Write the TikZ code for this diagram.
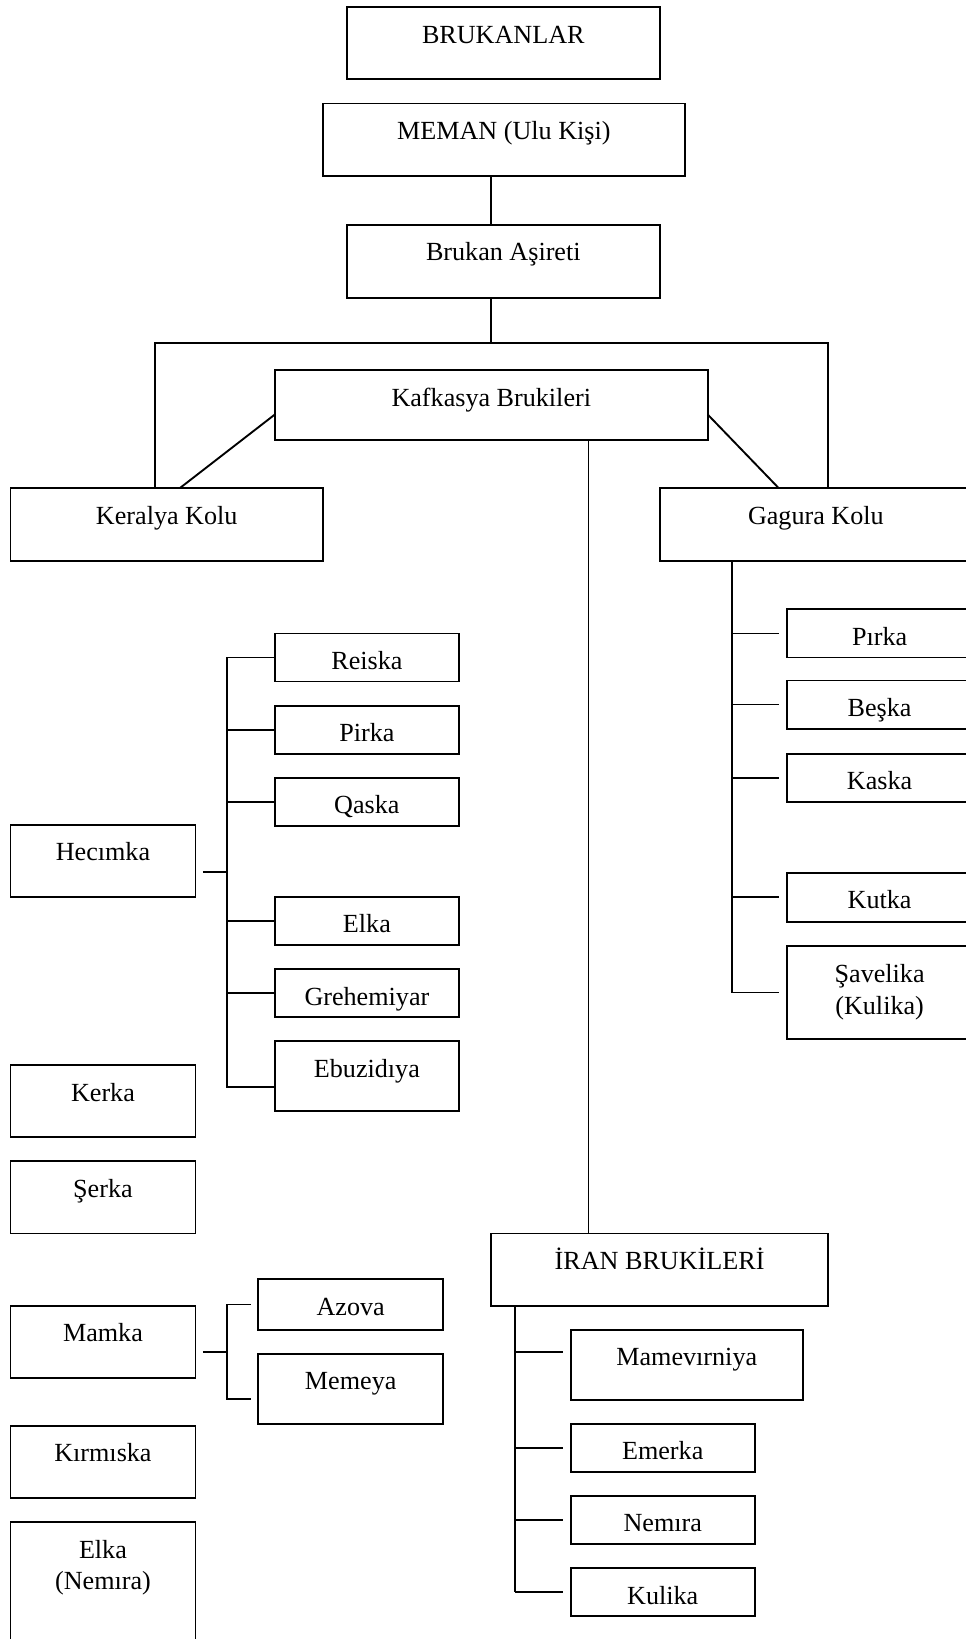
\documentclass[tikz,border=0pt]{standalone}
\usepackage{fontspec}
\setmainfont{Liberation Serif}
\usetikzlibrary{calc}
\tikzset{
  box/.style={draw, line width=1.8pt, inner sep=0pt, outer sep=0pt, rectangle},
  lbl/.style={anchor=base, inner sep=0pt, font=\fontsize{25}{30}\selectfont},
  conn/.style={line width=1.8pt},
}
\newcommand\mybox[6]{%
  \node[box, anchor=north west, minimum width={#4pt-#2pt}, minimum height={#5pt-#3pt}] (#1) at (#2,#3) {};
  \node[lbl] (#1-t) at ($(#1.north)+(0,34.5)$) {#6};
}
\begin{document}
\begin{tikzpicture}[x=1pt,y=-1pt]
\useasboundingbox (0,0) rectangle (924,1568);
\clip (0,0) rectangle (924,1568);
% top chain
\mybox{brk}{332}{7}{631}{76}{BRUKANLAR}
\mybox{meman}{309}{99}{655}{168}{MEMAN (Ulu Kişi)}
\mybox{bruk}{332}{215}{631}{285}{Brukan Aşireti}
\mybox{kaf}{263}{354}{677}{421}{Kafkasya Brukileri}
\mybox{ker}{10}{467}{309}{537}{Keralya Kolu}
\mybox{gag}{631}{467}{930}{537}{Gagura Kolu}
% left column
\mybox{hec}{10}{789}{187}{858}{Hecımka}
\mybox{rei}{263}{606}{439}{652}{Reiska}
\mybox{pir}{263}{675}{439}{721}{Pirka}
\mybox{qas}{263}{744}{439}{790}{Qaska}
\mybox{elk}{263}{858}{439}{904}{Elka}
\mybox{gre}{263}{927}{439}{973}{Grehemiyar}
\mybox{ebu}{263}{996}{439}{1063}{Ebuzidıya}
\mybox{kerk}{10}{1019}{187}{1088}{Kerka}
\mybox{ser}{10}{1111}{187}{1180}{Şerka}
\mybox{mam}{10}{1249}{187}{1318}{Mamka}
\mybox{azo}{247}{1224}{424}{1272}{Azova}
\mybox{mem}{247}{1295}{424}{1362}{Memeya}
\mybox{kir}{10}{1364}{187}{1433}{Kırmıska}
\mybox{elkn}{10}{1456}{187}{1600}{Elka}
\node[lbl] (elkn-t2) at ($(elkn.north)+(0,64.5)$) {(Nemıra)};
% Iran
\mybox{iran}{470}{1180}{792}{1249}{İRAN BRUKİLERİ}
\mybox{mev}{546}{1272}{768}{1339}{Mamevırniya}
\mybox{eme}{546}{1362}{722}{1408}{Emerka}
\mybox{nem}{546}{1431}{722}{1477}{Nemıra}
\mybox{kul}{546}{1500}{722}{1546}{Kulika}
% Gagura column
\mybox{pik}{753}{583}{930}{629}{Pırka}
\mybox{bes}{753}{651}{930}{697}{Beşka}
\mybox{kas}{753}{721}{930}{767}{Kaska}
\mybox{kut}{753}{835}{930}{882}{Kutka}
\mybox{sav}{753}{905}{930}{994}{Şavelika}
\node[lbl] (sav-t2) at ($(sav.north)+(0,65.5)$) {(Kulika)};
% top connectors
\coordinate (hub) at (470,328);
\coordinate (hl) at (148,328);
\coordinate (hr) at (792,328);
\draw[conn] (meman.south -| hub) -- (bruk.north -| hub);
\draw[conn] (bruk.south -| hub) -- (hub);
\draw[conn] (ker.north -| hl) -- (hl) -- (hr) -- (gag.north -| hr);
\draw[conn] ($(kaf.west)+(0,9)$) -- ($(ker.north)+(12.5,0)$);
\draw[conn] ($(kaf.east)+(0,9)$) -- ($(gag.north)+(-35.5,0)$);
\coordinate (kv) at (563,0);
\draw[conn] (kaf.south -| kv) -- (iran.north -| kv);
% Gagura bus
\coordinate (gb) at (700,0);
\draw[conn] (gag.south -| gb) -- (gb |- sav.west);
\foreach \n in {pik,bes,kas,kut,sav}{
  \draw[conn] (gb |- \n.west) -- ($(\n.west)+(-8,0)$);
}
% Hecimka bus
\coordinate (hb) at (217,0);
\draw[conn] ($(hec.east)+(7,10.5)$) coordinate (hc) -- (hc -| hb);
\draw[conn] (hb |- rei.west) -- ($(hb |- ebu.west)+(0,10.5)$) -- ($(ebu.west)+(0,10.5)$);
\foreach \n in {rei,pir,qas,elk,gre}{
  \draw[conn] (hb |- \n.west) -- (\n.west);
}
% Mamka bus
\draw[conn] ($(mam.east)+(7,9.5)$) coordinate (mc) -- (mc -| hb);
\draw[conn] ($(azo.west)+(-7,0)$) -- (hb |- azo.west) -- ($(hb |- mem.west)+(0,9.5)$) -- ($(mem.west)+(-7,9.5)$);
% Iran bus
\coordinate (ib) at (493,0);
\draw[conn] (iran.south -| ib) -- (ib |- kul.west);
\draw[conn] ($(ib |- mev.west)+(0,-12.5)$) -- ($(mev.west)+(-7.5,-12.5)$);
\foreach \n in {eme,nem,kul}{
  \draw[conn] (ib |- \n.west) -- ($(\n.west)+(-7.5,0)$);
}
\end{tikzpicture}
\end{document}
